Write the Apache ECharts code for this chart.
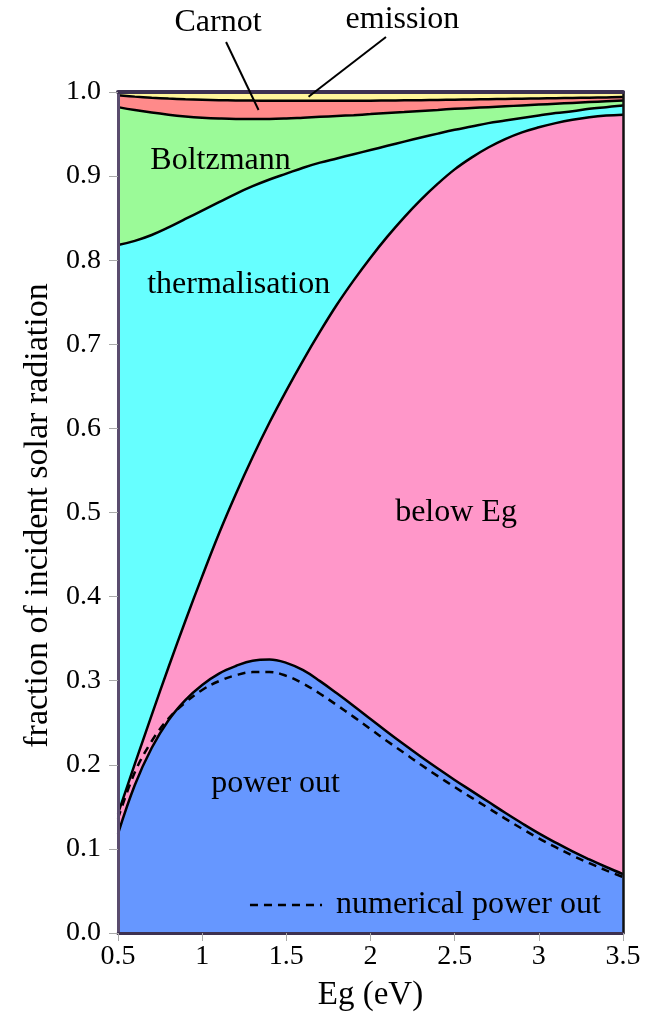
<!DOCTYPE html>
<html>
<head>
<meta charset="utf-8">
<script src="https://cdn.jsdelivr.net/npm/echarts@6/dist/echarts.min.js"></script>
<style>
html,body{margin:0;padding:0;background:#fff;}
#c{width:650px;height:1021px;}
</style>
</head>
<body>
<div id="c"></div>
<script>
// ---- data ----
const xEg = [0.5,0.6,0.7,0.8,0.9,1.0,1.1,1.2,1.3,1.4,1.5,1.6,1.7,1.8,1.9,2.0,2.1,2.2,2.3,2.4,2.5,2.6,2.7,2.8,2.9,3.0,3.1,3.2,3.3,3.4,3.5];
const emissionTop = [1,1,1,1,1,1,1,1,1,1,1,1,1,1,1,1,1,1,1,1,1,1,1,1,1,1,1,1,1,1,1];
const carnotTop = [0.996,0.9945,0.9932,0.9922,0.9914,0.9908,0.9903,0.9900,0.9898,0.9897,0.9897,0.9897,0.9897,0.9897,0.9897,0.9897,0.9899,0.9901,0.9903,0.9906,0.9909,0.9912,0.9915,0.9918,0.9921,0.9924,0.9927,0.9930,0.9933,0.9936,0.994];
const boltzmannTop = [0.982,0.9785,0.9755,0.973,0.971,0.9695,0.9685,0.968,0.968,0.968,0.9685,0.9695,0.9705,0.9715,0.9725,0.9737,0.975,0.9762,0.9775,0.9787,0.980,0.981,0.982,0.983,0.984,0.985,0.986,0.987,0.988,0.989,0.990];
const thermalTop = [0.818,0.823,0.830,0.839,0.849,0.859,0.869,0.879,0.888,0.896,0.903,0.910,0.916,0.921,0.926,0.931,0.936,0.941,0.9458,0.9505,0.955,0.959,0.963,0.966,0.969,0.972,0.975,0.977,0.980,0.982,0.984];
const belowEgTop = [0.142,0.201,0.259,0.316,0.371,0.424,0.475,0.522,0.566,0.607,0.645,0.681,0.715,0.747,0.776,0.803,0.828,0.851,0.872,0.891,0.908,0.922,0.934,0.944,0.952,0.958,0.963,0.967,0.970,0.972,0.973];
const powerOut = [0.118,0.176,0.220,0.253,0.277,0.295,0.3085,0.3175,0.3238,0.3252,0.3212,0.3125,0.2995,0.285,0.270,0.2545,0.239,0.224,0.2095,0.1955,0.182,0.169,0.156,0.143,0.1305,0.1185,0.1075,0.097,0.0875,0.0785,0.070];
const numericalPowerOut = [0.136,0.191,0.228,0.255,0.274,0.289,0.2995,0.3065,0.3102,0.3104,0.3058,0.2965,0.2845,0.271,0.257,0.2425,0.228,0.214,0.200,0.1865,0.1735,0.161,0.1485,0.136,0.124,0.1125,0.102,0.092,0.083,0.0745,0.0665];

const xTitle = 'Eg (eV)';
const yTitle = 'fraction of incident solar radiation';

// annotations (data coordinates)
const annoText = ['Carnot','emission','Boltzmann','thermalisation','below Eg','power out','numerical power out'];
const annoX = [1.094, 2.19, 1.109, 1.217, 2.508, 1.436, 1.795];
const annoY = [1.082, 1.086, 0.918, 0.7705, 0.500, 0.178, 0.0333];
const carnotLeader = [[1.142,1.0595],[1.335,0.9786]];
const emissionLeader = [[2.092,1.0654],[1.632,0.9944]];
const legendDash = [[1.284,0.0333],[1.712,0.0333]];

// ---- chart ----
const FONT = 'Liberation Serif';
const pairs = arr => xEg.map((x,i)=>[x,arr[i]]);
function areaSeries(name, arr, color, showLine){
  return {
    name, type:'line', data:pairs(arr), smooth:0.4, symbol:'none',
    lineStyle:{color:'#000', width: showLine ? 2.5 : 0},
    areaStyle:{color, opacity:1},
    silent:true, animation:false
  };
}
const frameColor = '#3d3150';
const option = {
  animation:false,
  backgroundColor:'#fff',
  textStyle:{fontFamily:FONT},
  grid:{left:118, right:27, top:92, bottom:88, containLabel:false},
  xAxis:[{
    type:'value', min:0.5, max:3.5, interval:0.5, z:10,
    name:xTitle, nameLocation:'middle', nameGap:46,
    nameTextStyle:{fontFamily:FONT, fontSize:33, color:'#000'},
    axisLine:{show:true, onZero:false, lineStyle:{color:frameColor, width:3}},
    axisTick:{show:true, length:8, lineStyle:{color:'#aaa', width:1}},
    axisLabel:{fontFamily:FONT, fontSize:28, color:'#000', margin:10,
      formatter:v=>String(+v.toFixed(1))},
    splitLine:{show:false}
  },{
    type:'value', min:0.5, max:3.5, position:'top', z:10,
    axisLine:{show:true, onZero:false, lineStyle:{color:frameColor, width:4}},
    axisTick:{show:false}, axisLabel:{show:false}, splitLine:{show:false}
  }],
  yAxis:[{
    type:'value', min:0, max:1, interval:0.1, z:10,
    axisLine:{show:true, onZero:false, lineStyle:{color:'#5a4c6e', width:3}},
    axisTick:{show:true, length:9, lineStyle:{color:'#aaa', width:1}},
    axisLabel:{fontFamily:FONT, fontSize:28, color:'#000', margin:17,
      formatter:v=>v.toFixed(1)},
    splitLine:{show:false}
  },{
    type:'value', min:0, max:1, position:'right', z:10,
    axisLine:{show:true, onZero:false, lineStyle:{color:'#111', width:2.5}},
    axisTick:{show:false}, axisLabel:{show:false}, splitLine:{show:false}
  }],
  series:[
    areaSeries('emission', emissionTop, '#fff59a', false),
    areaSeries('Carnot', carnotTop, '#ff8a8a', true),
    areaSeries('Boltzmann', boltzmannTop, '#9bfa98', true),
    areaSeries('thermalisation', thermalTop, '#66ffff', true),
    areaSeries('below Eg', belowEgTop, '#ff97c9', true),
    areaSeries('power out', powerOut, '#6697ff', true),
    {
      name:'numerical power out', type:'line', data:pairs(numericalPowerOut),
      smooth:0.4, symbol:'none', silent:true, animation:false,
      lineStyle:{color:'#000', width:2.5, type:[8,6]}, z:5
    }
  ]
};
const chart = echarts.init(document.getElementById('c'), null, {renderer:'canvas'});
chart.setOption(option);

function px(p){ return chart.convertToPixel({xAxisIndex:0, yAxisIndex:0}, p); }
const elements = [];
annoText.forEach((t,i)=>{
  const p = px([annoX[i], annoY[i]]);
  const left = (t === 'numerical power out');
  elements.push({
    type:'text', z:100, silent:true,
    style:{text:t, x:p[0], y:p[1], fill:'#000',
      font:'32px "Liberation Serif"',
      textAlign: left ? 'left' : 'center',
      textVerticalAlign:'middle', verticalAlign:'middle'}
  });
});
// rotated y-axis title, centred on the axis middle
{
  const mid = px([0.5, 0.5]);
  elements.push({
    type:'text', z:100, silent:true,
    x: mid[0] - 80, y: mid[1] + 3, rotation: Math.PI/2,
    style:{text:yTitle, x:0, y:0, fill:'#000', font:'34px "Liberation Serif"',
      textAlign:'center', textVerticalAlign:'middle', verticalAlign:'middle'}
  });
}
[carnotLeader, emissionLeader].forEach(seg=>{
  const a = px(seg[0]), b = px(seg[1]);
  elements.push({type:'line', z:100, silent:true,
    shape:{x1:a[0], y1:a[1], x2:b[0], y2:b[1]},
    style:{stroke:'#000', lineWidth:2}});
});
{
  const a = px(legendDash[0]), b = px(legendDash[1]);
  elements.push({type:'line', z:100, silent:true,
    shape:{x1:a[0], y1:a[1], x2:b[0], y2:b[1]},
    style:{stroke:'#000', lineWidth:2.5, lineDash:[8,6]}});
}
chart.setOption({graphic:{elements}});
</script>
</body>
</html>
